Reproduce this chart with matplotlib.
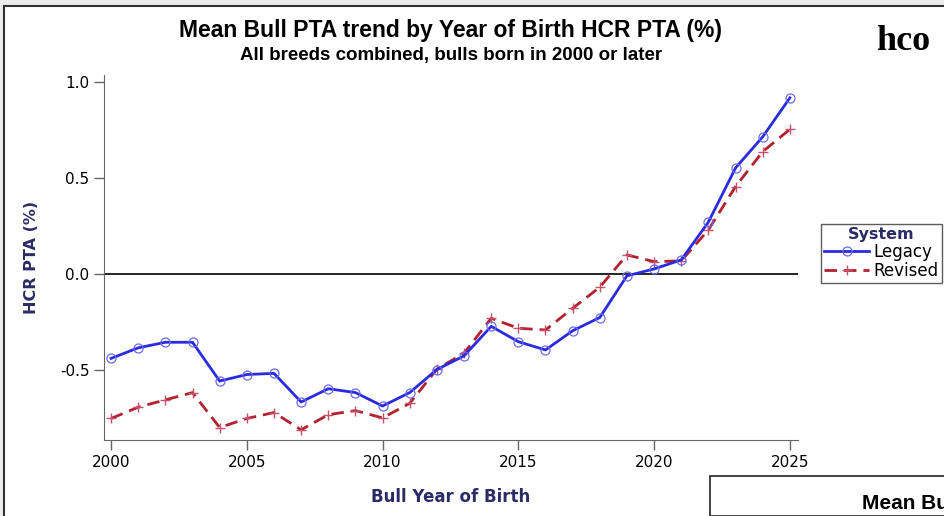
import numpy as np
import matplotlib
matplotlib.use('Agg')
import matplotlib.pyplot as plt
from matplotlib.patches import Rectangle
from matplotlib.lines import Line2D

# Mean bull PTA by birth year
years = list(range(2000, 2026))
legacy = [-0.44, -0.385, -0.356, -0.356, -0.558, -0.524, -0.518, -0.667, -0.598, -0.618,
          -0.688, -0.618, -0.498, -0.427, -0.273, -0.353, -0.396, -0.296, -0.227, -0.01,
          0.026, 0.073, 0.27, 0.552, 0.714, 0.917]
revised = [-0.753, -0.694, -0.656, -0.618, -0.80, -0.753, -0.722, -0.812, -0.733, -0.712,
           -0.75, -0.674, -0.496, -0.413, -0.231, -0.283, -0.292, -0.179, -0.069, 0.099,
           0.064, 0.068, 0.229, 0.455, 0.637, 0.753]
xticks = [2000, 2005, 2010, 2015, 2020, 2025]
yticks = [-0.5, 0.0, 0.5, 1.0]

NAVY = '#2b2b66'
BLUE = '#2a2ae0'
RED = '#b3202e'

W, H = 945, 516
fig = plt.figure(figsize=(W / 100, H / 100), dpi=100)

def fx(px):
    return px / W

def fy(py):
    return 1 - py / H

# window frame bits around the chart panel
fig.patches.append(Rectangle((0, fy(6)), 1, 1 - fy(6), transform=fig.transFigure,
                             facecolor='#ececec', edgecolor='none', zorder=0))
fig.patches.append(Rectangle((0, 0), fx(4), fy(6), transform=fig.transFigure,
                             facecolor='#ececec', edgecolor='none', zorder=0))
fig.add_artist(Line2D([fx(4), 1], [fy(6), fy(6)], transform=fig.transFigure,
                      color='#333333', lw=1.5))
fig.add_artist(Line2D([fx(4), fx(4)], [0, fy(6)], transform=fig.transFigure,
                      color='#333333', lw=1.5))

ax_l, ax_r, ax_t, ax_b = 104, 798, 75, 440
ax = fig.add_axes([fx(ax_l), fy(ax_b), fx(ax_r) - fx(ax_l), fy(ax_t) - fy(ax_b)])
ax.axhline(0, color='black', lw=1.2, zorder=1)
ax.plot(years, legacy, color=BLUE, lw=2, marker='o', ms=6.5, mfc='none',
        mec='#6b6bf0', mew=0.9, label='Legacy', zorder=3)
ax.plot(years, revised, color=RED, lw=2, ls=(0, (4.5, 2.5)), marker='+', ms=7,
        mec='#c8506a', mew=1.0, label='Revised', zorder=2)

ax.set_xlim(1999.74, 2025.3)
ax.set_ylim(-0.865, 1.036)
ax.set_xticks(xticks)
ax.set_yticks(yticks)
ax.set_yticklabels(['-0.5', '0.0', '0.5', '1.0'])
for s in ['top', 'right']:
    ax.spines[s].set_visible(False)
for s in ['left', 'bottom']:
    ax.spines[s].set_color('#666666')
ax.tick_params(colors='#666666', labelcolor='black', labelsize=11, length=7, width=1)
ax.tick_params(axis='x', pad=4)

ax.set_xlabel('Bull Year of Birth', color=NAVY, fontsize=12, fontweight='bold', labelpad=13)
ax.set_ylabel('HCR PTA (%)', color=NAVY, fontsize=11.5, fontweight='bold', labelpad=15)

# legend sits outside the plot area, right of the axes
leg_x = (821 - ax_l) / (ax_r - ax_l)
leg_y = (ax_b - 224) / (ax_b - ax_t)
leg = ax.legend(loc='upper left', bbox_to_anchor=(leg_x, leg_y),
                title='System', fontsize=12, frameon=True, fancybox=False,
                borderpad=0.2, handlelength=2.7, handletextpad=0.25, labelspacing=0.05,
                borderaxespad=0)
leg.get_frame().set_edgecolor('#333333')
leg.get_frame().set_linewidth(1)
leg.get_title().set_color(NAVY)
leg.get_title().set_fontweight('bold')
leg.get_title().set_fontsize(11.5)

title_font = ['Liberation Sans Narrow', 'Liberation Sans', 'DejaVu Sans']
fig.text(fx(451), fy(37), 'Mean Bull PTA trend by Year of Birth HCR PTA (%)',
         ha='center', va='baseline', fontsize=16.5, fontweight='bold', family=title_font)
fig.text(fx(451), fy(60), 'All breeds combined, bulls born in 2000 or later',
         ha='center', va='baseline', fontsize=13.5, fontweight='bold', family=title_font)
fig.text(fx(876), fy(50), 'hco', ha='left', va='baseline', fontsize=26,
         fontweight='bold', family='Liberation Serif')

# next panel peeking in at the bottom right
fig.patches.append(Rectangle((fx(710), 0), 1 - fx(710), fy(476), transform=fig.transFigure,
                             facecolor='white', edgecolor='#222222', lw=1.2, zorder=5))
fig.text(fx(862), fy(509), 'Mean Bu', ha='left', va='baseline',
         fontsize=15, fontweight='bold', family=title_font, zorder=6)

fig.savefig('out.png', dpi=100)
